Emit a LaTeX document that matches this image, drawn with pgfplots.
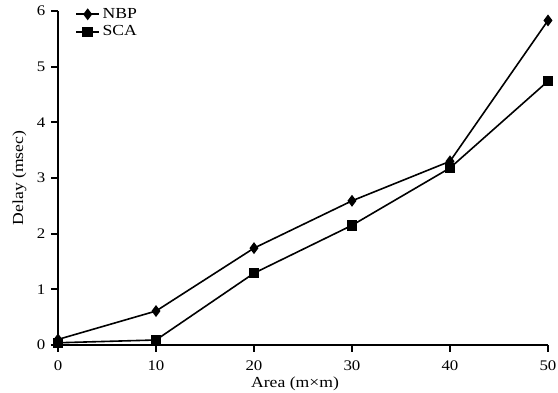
\documentclass[border=0pt]{standalone}
\usepackage{fontspec}
\setmainfont{Liberation Serif}[FakeStretch=1.15]
\usepackage{pgfplots}
\pgfplotsset{compat=1.18}
\begin{document}
\begin{tikzpicture}
\useasboundingbox (-43.5pt,-36pt) rectangle (375pt,258.75pt);
\begin{axis}[
  at={(0,0)}, anchor=south west,
  scale only axis,
  width=367.5pt, height=250.5pt,
  xmin=0, xmax=50, ymin=0, ymax=6,
  axis x line=bottom, axis y line=left,
  axis line style={-, line width=1.3pt},
  xtick={0,10,20,30,40,50},
  ytick={0,1,2,3,4,5,6},
  tick align=outside,
  major tick length=5pt,
  tick style={line width=1.3pt, black},
  /pgf/number format/assume math mode=true,
  ticklabel style={font=\fontsize{11}{12}\selectfont},
  yticklabel style={xshift=-1pt},
  xticklabel style={yshift=-3pt},
  label style={font=\fontsize{11.5}{13}\selectfont},
  xlabel={Area (m×m)}, ylabel={Delay (msec)},
  xlabel style={yshift=2pt, xshift=-6pt},
  ylabel style={yshift=1pt},
  legend style={at={(0.027,1.025)}, anchor=north west, draw=none, fill=none, font=\fontsize{11.5}{13}\selectfont, row sep=0pt},
  legend cell align=left,
  clip=false,
]
\addplot[black, line width=1.2pt, mark=diamond*, mark size=3.5pt] coordinates {
(0,0.1) (10,0.61) (20,1.74) (30,2.59) (40,3.30) (50,5.83)};
\addlegendentry{NBP}
\addplot[black, line width=1.2pt, mark=square*, mark size=3.3pt] coordinates {
(0,0.04) (10,0.09) (20,1.29) (30,2.15) (40,3.18) (50,4.74)};
\addlegendentry{SCA}
\end{axis}
\end{tikzpicture}
\end{document}
